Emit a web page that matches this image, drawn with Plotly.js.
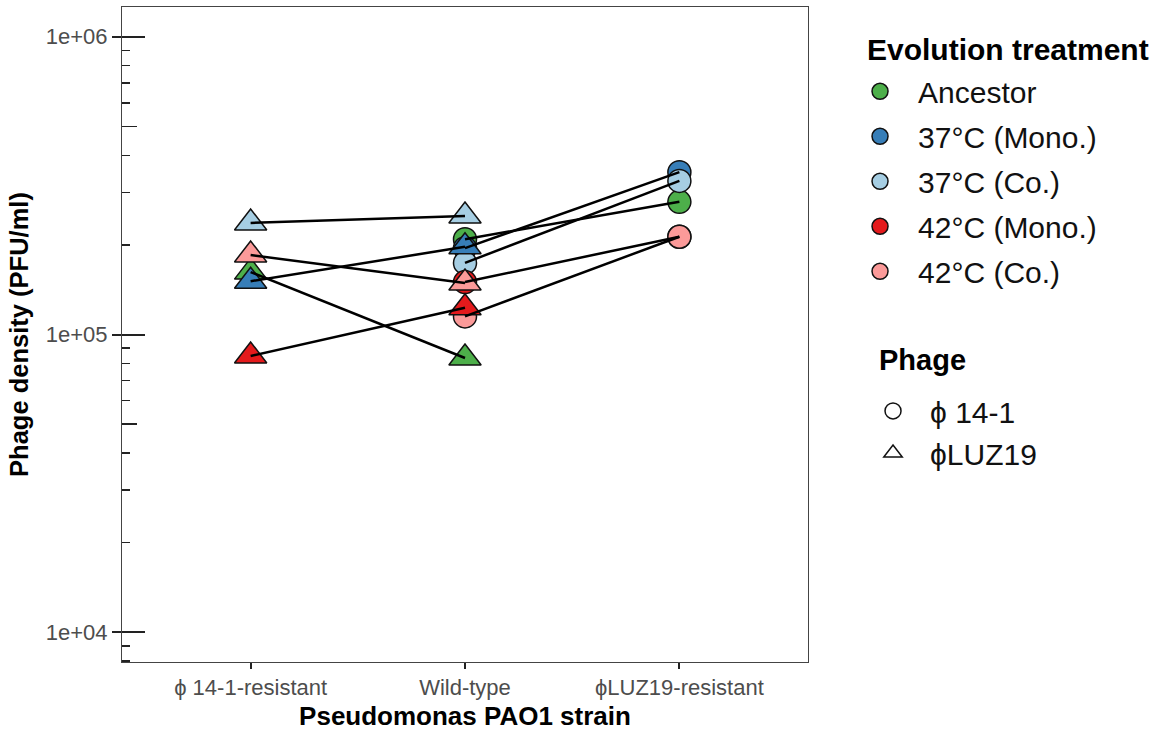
<!DOCTYPE html>
<html>
<head>
<meta charset="utf-8">
<script src="https://cdn.plot.ly/plotly-3.0.1.min.js"></script>
<style>html,body{margin:0;padding:0;background:#fff;}#chart{width:1174px;height:731px;}</style>
</head>
<body>
<div id="chart"></div>
<script>
// ---- data ----
const strains = ["ϕ 14-1-resistant", "Wild-type", "ϕLUZ19-resistant"];
const treatments = ["Ancestor", "37°C (Mono.)", "37°C (Co.)", "42°C (Mono.)", "42°C (Co.)"];
const treatmentColors = ["#4DAF4A", "#377EB8", "#A6CEE3", "#E41A1C", "#FB9A99"];
const phages = ["ϕ 14-1", "ϕLUZ19"];
// phage ϕ 14-1 densities (PFU/ml) on Wild-type and ϕLUZ19-resistant hosts, by treatment
const phi14_wildtype = [2.09e5, 1.95e5, 1.74e5, 1.50e5, 1.15e5];
const phi14_luz19res = [2.79e5, 3.51e5, 3.28e5, 2.13e5, 2.13e5];
// phage ϕLUZ19 densities on ϕ 14-1-resistant and Wild-type hosts, by treatment
const luz19_phi14res = [1.62e5, 1.51e5, 2.37e5, 8.47e4, 1.85e5];
const luz19_wildtype = [8.34e4, 1.97e5, 2.50e5, 1.23e5, 1.49e5];
const yTickVals = [1e4, 1e5, 1e6];
const yTickText = ["1e+04", "1e+05", "1e+06"];
const legendTitles = ["Evolution treatment", "Phage"];

// ---- traces ----
const FONT = "Liberation Sans, Arial, sans-serif";
const traces = [];
// circles (ϕ 14-1) first
treatments.forEach((t, i) => {
  traces.push({
    type: "scatter", mode: "markers", name: t, legend: "legend", legendgroup: "g" + i,
    x: [strains[1], strains[2]], y: [phi14_wildtype[i], phi14_luz19res[i]],
    marker: {symbol: "circle", size: 23, color: treatmentColors[i], line: {color: "#111", width: 1.5}},
    hoverinfo: "skip"
  });
});
// triangles (ϕLUZ19)
treatments.forEach((t, i) => {
  traces.push({
    type: "scatter", mode: "markers", name: t, showlegend: false, legendgroup: "g" + i,
    x: [strains[0], strains[1]], y: [luz19_phi14res[i], luz19_wildtype[i]],
    marker: {symbol: "triangle-up", size: 28, color: treatmentColors[i], line: {color: "#111", width: 1.5}},
    hoverinfo: "skip"
  });
});
// connecting lines drawn on top
treatments.forEach((t, i) => {
  traces.push({
    type: "scatter", mode: "lines", showlegend: false, legendgroup: "g" + i,
    x: [strains[1], strains[2]], y: [phi14_wildtype[i], phi14_luz19res[i]],
    line: {color: "#000", width: 2.5}, hoverinfo: "skip"
  });
  traces.push({
    type: "scatter", mode: "lines", showlegend: false, legendgroup: "g" + i,
    x: [strains[0], strains[1]], y: [luz19_phi14res[i], luz19_wildtype[i]],
    line: {color: "#000", width: 2.5}, hoverinfo: "skip"
  });
});
// phage shape legend keys
const phageSymbols = ["circle", "triangle-up"];
phages.forEach((p, k) => {
  traces.push({
    type: "scatter", mode: "markers", name: p, legend: "legend2", legendgroup: "p" + k,
    x: [null], y: [null],
    marker: {symbol: phageSymbols[k], size: 22, color: "#fff", line: {color: "#111", width: 1.5}},
    hoverinfo: "skip"
  });
});
// carrier for inner log-tick axis
traces.push({type: "scatter", mode: "markers", x: [null], y: [null], yaxis: "y2", showlegend: false, hoverinfo: "skip"});

const minorVals = [];
[1e3, 1e4, 1e5].forEach(d => [2, 3, 4, 6, 7, 8, 9].forEach(m => minorVals.push(m * d)));

const layout = {
  width: 1174, height: 731,
  margin: {l: 122, r: 366, t: 7, b: 69},
  paper_bgcolor: "#fff", plot_bgcolor: "#fff",
  font: {family: FONT, color: "#000"},
  showlegend: true,
  hovermode: false,
  xaxis: {
    type: "category", categoryorder: "array", categoryarray: strains,
    range: [-0.6, 2.6], tickvals: strains,
    showline: true, linecolor: "#444", linewidth: 1, mirror: true,
    ticks: "outside", ticklen: 6, tickwidth: 2, tickcolor: "#222",
    showgrid: false, zeroline: false,
    tickfont: {family: FONT, size: 22, color: "#4d4d4d"},
    title: {text: "<b>Pseudomonas PAO1 strain</b>", font: {family: FONT, size: 26, color: "#000"}, standoff: 7}
  },
  yaxis: {
    type: "log", range: [3.9, 6.1],
    tickvals: yTickVals, ticktext: yTickText,
    showline: true, linecolor: "#444", linewidth: 1, mirror: true,
    ticks: "outside", ticklen: 9, tickwidth: 2, tickcolor: "#222",
    minor: {tickvals: minorVals, ticks: "inside", ticklen: 8, tickwidth: 1.5, tickcolor: "#222", showgrid: false},
    showgrid: false, zeroline: false,
    tickfont: {family: FONT, size: 22, color: "#4d4d4d"},
    title: {text: "<b>Phage density (PFU/ml)</b>", font: {family: FONT, size: 25.5, color: "#000"}, standoff: 9}
  },
  yaxis2: {
    type: "log", range: [3.9, 6.1], overlaying: "y", side: "left",
    tickvals: yTickVals, ticks: "inside", ticklen: 23, tickwidth: 2, tickcolor: "#222",
    minor: {tickvals: [5e3, 5e4, 5e5], ticks: "inside", ticklen: 15, tickwidth: 1.5, tickcolor: "#222", showgrid: false},
    showticklabels: false, showline: false, showgrid: false, zeroline: false
  },
  legend: {
    font: {family: FONT, size: 30, color: "#111"},
    x: 1.0496, xanchor: "left", y: 0.911, yanchor: "top",
    traceorder: "grouped", tracegroupgap: 3, itemwidth: 66,
    bgcolor: "rgba(0,0,0,0)"
  },
  legend2: {
    font: {family: FONT, size: 30, color: "#111"},
    x: 1.07, xanchor: "left", y: 0.423, yanchor: "top",
    traceorder: "grouped", tracegroupgap: 0, itemwidth: 64,
    bgcolor: "rgba(0,0,0,0)"
  },
  annotations: [
    {text: "<b>" + legendTitles[0] + "</b>", xref: "paper", yref: "paper", x: 1.0831, y: 0.9344,
     xanchor: "left", yanchor: "middle", showarrow: false, font: {family: FONT, size: 30, color: "#000"}},
    {text: "<b>" + legendTitles[1] + "</b>", xref: "paper", yref: "paper", x: 1.1006, y: 0.461,
     xanchor: "left", yanchor: "middle", showarrow: false, font: {family: FONT, size: 29, color: "#000"}}
  ]
};

Plotly.newPlot("chart", traces, layout, {displayModeBar: false, staticPlot: true});
</script>
</body>
</html>
